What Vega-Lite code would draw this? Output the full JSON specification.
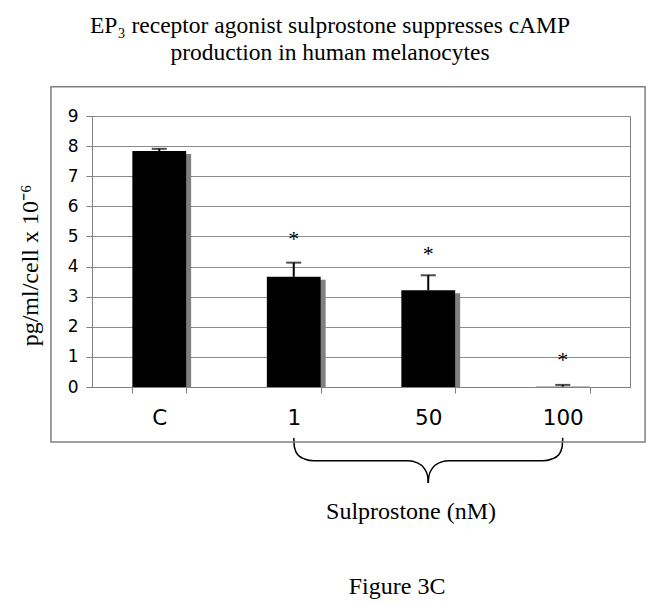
{
  "$schema": "https://vega.github.io/schema/vega-lite/v6.json",
  "width": 538,
  "height": 271,
  "autosize": {"type": "none"},
  "padding": {"left": 92, "top": 116, "right": 22, "bottom": 219},
  "background": "white",
  "view": {"stroke": "#808080", "strokeWidth": 1},
  "title": {
    "text": ["EP₃ receptor agonist sulprostone suppresses cAMP", "production in human melanocytes"],
    "font": "Liberation Serif",
    "fontSize": 23.5,
    "fontWeight": "normal",
    "color": "black",
    "anchor": "middle",
    "dx": -31,
    "offset": 22,
    "lineHeight": 27
  },
  "datasets": {
    "bars": [
      {"cond": "C", "value": 7.84, "upper": 7.91, "star": null},
      {"cond": "1", "value": 3.66, "upper": 4.13, "star": 5.05},
      {"cond": "50", "value": 3.21, "upper": 3.71, "star": 4.55},
      {"cond": "100", "value": 0.01, "upper": 0.07, "star": 1.03}
    ],
    "brace": [
      {"half": "L", "pos": 1.5, "value": -1.69},
      {"half": "L", "pos": 1.505, "value": -2.0},
      {"half": "L", "pos": 1.53, "value": -2.25},
      {"half": "L", "pos": 1.58, "value": -2.39},
      {"half": "L", "pos": 1.65, "value": -2.45},
      {"half": "L", "pos": 2.35, "value": -2.45},
      {"half": "L", "pos": 2.42, "value": -2.52},
      {"half": "L", "pos": 2.47, "value": -2.7},
      {"half": "L", "pos": 2.495, "value": -2.95},
      {"half": "L", "pos": 2.5, "value": -3.19},
      {"half": "R", "pos": 2.5, "value": -3.19},
      {"half": "R", "pos": 2.505, "value": -2.95},
      {"half": "R", "pos": 2.53, "value": -2.7},
      {"half": "R", "pos": 2.58, "value": -2.52},
      {"half": "R", "pos": 2.65, "value": -2.45},
      {"half": "R", "pos": 3.35, "value": -2.45},
      {"half": "R", "pos": 3.42, "value": -2.39},
      {"half": "R", "pos": 3.47, "value": -2.25},
      {"half": "R", "pos": 3.495, "value": -2.0},
      {"half": "R", "pos": 3.5, "value": -1.69}
    ]
  },
  "layer": [
    {
      "data": {"name": "bars"},
      "encoding": {
        "x": {
          "field": "cond",
          "type": "nominal",
          "sort": ["C", "1", "50", "100"],
          "scale": {"paddingInner": 0.6, "paddingOuter": 0.3},
          "axis": {
            "title": null,
            "tickBand": "extent",
            "tickSize": 6,
            "tickColor": "#808080",
            "domainColor": "#808080",
            "labelFont": "DejaVu Sans",
            "labelFontSize": 21.5,
            "labelColor": "black",
            "labelPadding": 14,
            "labelAngle": 0
          }
        },
        "y": {
          "field": "value",
          "type": "quantitative",
          "scale": {"domain": [0, 9], "nice": false, "zero": true},
          "axis": {
            "title": "pg/ml/cell x 10⁻⁶",
            "titleFont": "Liberation Serif",
            "titleFontSize": 24,
            "titleFontWeight": "normal",
            "titleColor": "black",
            "titleX": -62,
            "titleY": 149,
            "titleAngle": 270,
            "titleAlign": "center",
            "titleBaseline": "middle",
            "values": [0, 1, 2, 3, 4, 5, 6, 7, 8, 9],
            "labelOverlap": false,
            "grid": true,
            "gridColor": "#8c8c8c",
            "gridWidth": 1,
            "domainColor": "#808080",
            "tickColor": "#808080",
            "tickSize": 6,
            "labelFont": "DejaVu Sans",
            "labelFontSize": 17,
            "labelColor": "black",
            "labelPadding": 8
          }
        }
      },
      "layer": [
        {"mark": {"type": "bar", "color": "#808080", "xOffset": 5, "yOffset": 3, "clip": true}},
        {"mark": {"type": "bar", "color": "black"}},
        {"mark": {"type": "rule", "color": "black", "strokeWidth": 2}, "encoding": {"y2": {"field": "upper"}}},
        {"mark": {"type": "tick", "color": "black", "thickness": 2, "size": 15}, "encoding": {"y": {"field": "upper", "type": "quantitative"}}},
        {
          "transform": [{"filter": "datum.star != null"}],
          "mark": {"type": "text", "text": "*", "font": "Liberation Serif", "fontSize": 22, "baseline": "alphabetic", "dy": 11, "color": "black"},
          "encoding": {"y": {"field": "star", "type": "quantitative"}}
        }
      ]
    },
    {
      "data": {"name": "brace"},
      "mark": {"type": "line", "color": "black", "strokeWidth": 1.5, "interpolate": "monotone"},
      "encoding": {
        "x": {"field": "pos", "type": "quantitative", "scale": {"domain": [0, 4], "nice": false, "zero": false}, "axis": null},
        "y": {"field": "value", "type": "quantitative", "scale": {"domain": [0, 9], "nice": false, "zero": false}, "axis": null},
        "detail": {"field": "half"}
      }
    },
    {
      "data": {"values": [{}]},
      "mark": {"type": "text", "text": "Sulprostone (nM)", "font": "Liberation Serif", "fontSize": 24, "color": "black", "baseline": "middle"},
      "encoding": {
        "x": {"datum": 2.372, "type": "quantitative", "scale": {"domain": [0, 4], "nice": false, "zero": false}, "axis": null},
        "y": {"datum": -4.15, "type": "quantitative", "scale": {"domain": [0, 9], "nice": false, "zero": false}, "axis": null}
      }
    },
    {
      "data": {"values": [{}]},
      "mark": {"type": "text", "text": "Figure 3C", "font": "Liberation Serif", "fontSize": 24, "color": "black", "baseline": "middle"},
      "encoding": {
        "x": {"datum": 2.268, "type": "quantitative", "scale": {"domain": [0, 4], "nice": false, "zero": false}, "axis": null},
        "y": {"datum": -6.64, "type": "quantitative", "scale": {"domain": [0, 9], "nice": false, "zero": false}, "axis": null}
      }
    },
    {
      "data": {"values": [{}]},
      "mark": {"type": "rect", "fillOpacity": 0, "stroke": "#808080", "strokeWidth": 1.5},
      "encoding": {
        "x": {"datum": -0.305, "type": "quantitative", "scale": {"domain": [0, 4], "nice": false, "zero": false}, "axis": null},
        "x2": {"datum": 4.112},
        "y": {"datum": 9.97, "type": "quantitative", "scale": {"domain": [0, 9], "nice": false, "zero": false}, "axis": null},
        "y2": {"datum": -1.83}
      }
    }
  ],
  "resolve": {"scale": {"x": "independent", "y": "independent"}}
}
